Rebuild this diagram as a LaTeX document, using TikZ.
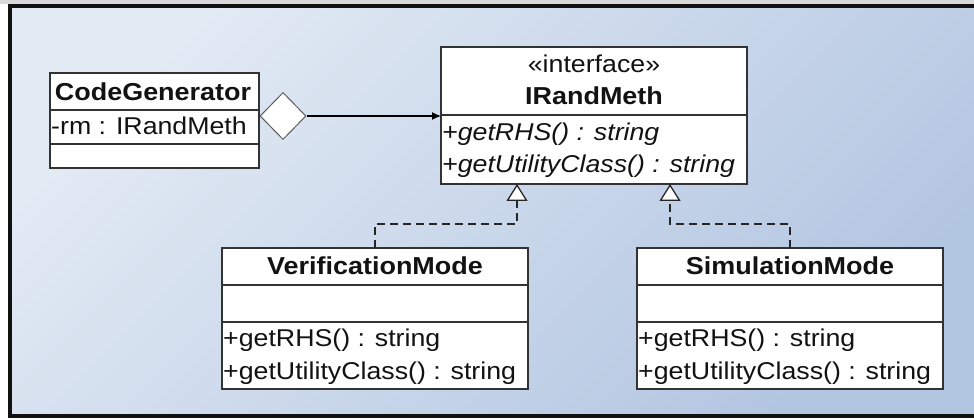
\documentclass[tikz,border=0pt]{standalone}
\usepackage{fontspec}
\setmainfont{Liberation Sans}[FakeStretch=1.1]
\usetikzlibrary{arrows.meta,shapes.geometric}

\definecolor{boxline}{HTML}{333333}
\definecolor{txt}{HTML}{121212}
\definecolor{bglight}{HTML}{E2EAF4}
\definecolor{bgdark}{HTML}{B2C5E1}
\definecolor{framecol}{HTML}{111111}

\begin{document}
\begin{tikzpicture}[x=1pt,y=-1pt,
  every node/.append style={font=\fontsize{24.3}{28}\selectfont},
  classbox/.style={draw=boxline, fill=white, line width=1.3pt,
    inner sep=0pt, outer sep=0pt, anchor=north west},
  divider/.style={draw=boxline, line width=1.3pt},
  classname/.style={inner sep=0pt, anchor=base, text=txt,
    font=\fontsize{24.5}{28}\selectfont\bfseries},
  stereo/.style={inner sep=0pt, anchor=base, text=txt},
  member/.style={inner sep=0pt, anchor=base west, text=txt},
  aggmark/.style={shape=diamond, draw=boxline!80, fill=white, line width=1pt,
    inner sep=0pt, minimum width=46pt, minimum height=47pt},
  assoc/.style={draw=black, line width=1.3pt, -{Latex[length=9pt,width=8pt]}},
  realize/.style={draw=black!85, line width=1.3pt, dash pattern=on 8pt off 5pt,
    -{Triangle[open, length=17pt, width=21pt, fill=white]}}
]
\useasboundingbox (0,0) rectangle (974,419);

% page background and framed panel
\fill[white] (0,0) rectangle (974,419);
\fill[black!15] (0,0) rectangle (974,4);
\shade[top color=bglight, bottom color=bgdark, shading angle=45]
  (10,6) rectangle (990,416);
\draw[framecol, line width=4pt] (10,6) rectangle (990,416);

% CodeGenerator
\node[classbox, minimum width=209pt, minimum height=95pt] (cg) at (50,73) {};
\draw[divider] (cg.west |- 0,110) -- (cg.east |- 0,110);
\draw[divider] (cg.west |- 0,144) -- (cg.east |- 0,144);
\node[classname] (cgname) at (153,101) {CodeGenerator};
\node[member] (cgattr) at (51,135) {-rm : IRandMeth};

% IRandMeth interface
\node[classbox, minimum width=306pt, minimum height=137pt] (irm) at (441,47) {};
\draw[divider] (irm.west |- 0,115) -- (irm.east |- 0,115);
\node[stereo] (irmstereo) at (594,73) {«interface»};
\node[classname] (irmname) at (594,105) {IRandMeth};
\node[member] (irmop1) at (442,141) {\itshape +getRHS() : string};
\node[member] (irmop2) at (442,173) {\itshape +getUtilityClass() : string};

% VerificationMode
\node[classbox, minimum width=306pt, minimum height=141pt] (vm) at (222,248) {};
\draw[divider] (vm.west |- 0,285) -- (vm.east |- 0,285);
\draw[divider] (vm.west |- 0,322) -- (vm.east |- 0,322);
\node[classname] (vmname) at (375,275) {VerificationMode};
\node[member] (vmop1) at (223,347) {+getRHS() : string};
\node[member] (vmop2) at (223,379) {+getUtilityClass() : string};

% SimulationMode
\node[classbox, minimum width=306pt, minimum height=141pt] (sm) at (637,248) {};
\draw[divider] (sm.west |- 0,285) -- (sm.east |- 0,285);
\draw[divider] (sm.west |- 0,322) -- (sm.east |- 0,322);
\node[classname] (smname) at (790,275) {SimulationMode};
\node[member] (smop1) at (638,347) {+getRHS() : string};
\node[member] (smop2) at (638,379) {+getUtilityClass() : string};

% aggregation from CodeGenerator to IRandMeth
\node[aggmark] (agg) at (283,116) {};
\draw[assoc] (agg.east) -- (irm.west |- agg.east);

% realizations of the interface
\coordinate (tipL) at (517,184);
\coordinate (tipR) at (670,184);
\draw[realize] (vm.north) -- ++(0,-24) -| (tipL);
\draw[realize] (sm.north) -- ++(0,-24) -| (tipR);
\end{tikzpicture}
\end{document}
